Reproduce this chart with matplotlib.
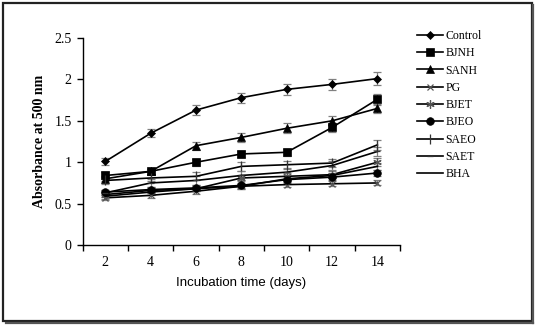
import matplotlib
matplotlib.use("Agg")
import matplotlib.pyplot as plt
from matplotlib.patches import Rectangle
from matplotlib.lines import Line2D

days = [2, 4, 6, 8, 10, 12, 14]
series_names = ["Control", "BJNH", "SANH", "PG", "BJET", "BJEO", "SAEO", "SAET", "BHA"]

control = [1.01, 1.35, 1.63, 1.78, 1.88, 1.94, 2.01]
bjnh = [0.84, 0.89, 1.00, 1.10, 1.12, 1.42, 1.76]
sanh = [0.80, 0.89, 1.20, 1.30, 1.41, 1.50, 1.65]
pg = [0.57, 0.60, 0.65, 0.71, 0.73, 0.74, 0.75]
bjet = [0.61, 0.66, 0.68, 0.81, 0.83, 0.85, 1.00]
bjeo = [0.64, 0.67, 0.69, 0.72, 0.79, 0.82, 0.87]
saeo = [0.78, 0.81, 0.83, 0.95, 0.97, 0.99, 1.21]
saet = [0.63, 0.75, 0.78, 0.84, 0.88, 0.96, 1.13]
bha = [0.59, 0.64, 0.68, 0.71, 0.80, 0.84, 0.95]

control_err = [0.04, 0.05, 0.06, 0.06, 0.07, 0.07, 0.08]
bjnh_err = [0.04, 0.03, 0.04, 0.04, 0.04, 0.05, 0.07]
sanh_err = [0.03, 0.03, 0.05, 0.05, 0.06, 0.06, 0.05]
pg_err = [0.03, 0.03, 0.03, 0.03, 0.03, 0.03, 0.03]
bjet_err = [0.03, 0.03, 0.03, 0.04, 0.04, 0.04, 0.05]
bjeo_err = [0.03, 0.03, 0.03, 0.03, 0.04, 0.04, 0.04]
saeo_err = [0.04, 0.04, 0.05, 0.05, 0.05, 0.05, 0.06]
saet_err = [0.03, 0.05, 0.05, 0.05, 0.05, 0.05, 0.05]
bha_err = [0.03, 0.03, 0.03, 0.03, 0.03, 0.03, 0.04]

values = [control, bjnh, sanh, pg, bjet, bjeo, saeo, saet, bha]
errors = [control_err, bjnh_err, sanh_err, pg_err, bjet_err, bjeo_err,
          saeo_err, saet_err, bha_err]

styles = [
    dict(marker="D", ms=4.5, mfc="black", mec="black", mew=0.5),
    dict(marker="s", ms=5.5, mfc="black", mec="black", mew=0.5),
    dict(marker="^", ms=5.5, mfc="black", mec="black", mew=0.5),
    dict(marker="x", ms=5, mfc="none", mec="#555555", mew=0.9),
    dict(marker=(6, 2, 0), ms=6, mfc="none", mec="#555555", mew=0.9),
    dict(marker="o", ms=5.5, mfc="black", mec="black", mew=0.5),
    dict(marker="|", ms=7, mfc="none", mec="#333333", mew=0.9),
    dict(marker="_", ms=5, mfc="none", mec="#333333", mew=0.9),
    dict(marker="None"),
]

serif = ["Liberation Serif", "DejaVu Serif"]
sans = ["Liberation Sans", "DejaVu Sans"]

fig = plt.figure(figsize=(5.37, 3.25), dpi=100)
ax = fig.add_axes([0.154, 0.246, 0.591, 0.637])

# category positions: day labels sit in the middle of each band
xpos = [i * 2 + 2 for i in range(len(days))]

handles = []
for name, vals, errs, st in zip(series_names, values, errors, styles):
    ax.errorbar(xpos, vals, yerr=errs, fmt="none", ecolor="#808080",
                elinewidth=0.9, capsize=3, capthick=0.9, zorder=2)
    ln, = ax.plot(xpos, vals, color="black", lw=1.2, zorder=3, **st)
    handles.append(ln)

ax.set_xlim(1, 15)
ax.set_ylim(0, 2.5)
ax.set_xticks([1, 3, 5, 7, 9, 11, 13, 15])
ax.set_xticklabels([])
ax.set_xticks(xpos, minor=True)
ax.set_xticklabels([str(d) for d in days], minor=True, family=serif, fontsize=10)
ax.tick_params(axis="x", which="minor", length=0, pad=8)
ax.tick_params(axis="x", which="major", length=4, width=1, direction="out")
ax.set_yticks([0, 0.5, 1, 1.5, 2, 2.5])
ax.set_yticklabels(["0", "0.5", "1", "1.5", "2", "2.5"], family=serif, fontsize=10)
ax.tick_params(axis="y", length=4, width=1, direction="out", pad=4)
for s in ["top", "right"]:
    ax.spines[s].set_visible(False)
for s in ["left", "bottom"]:
    ax.spines[s].set_linewidth(1)

ax.set_xlabel("Incubation time (days)", family=sans, fontsize=9.5, labelpad=6)
ax.set_ylabel("Absorbance at 500 nm", family=serif, fontsize=10,
              fontweight="bold", labelpad=6)

leg = fig.legend(handles, series_names, loc="upper left",
                 bbox_to_anchor=(0.777, 0.908), frameon=False,
                 prop={"family": serif, "size": 8.5},
                 handlelength=2.2, handletextpad=0.2, labelspacing=0.45,
                 borderpad=0, borderaxespad=0)

# outer frame with a dark drop shadow on the right and bottom
fig.patches.append(Rectangle((0.006, 0.012), 0.984, 0.978, transform=fig.transFigure,
                             fill=False, lw=1.6, ec="#222222"))
fig.lines.append(Line2D([0.993, 0.993], [0.006, 0.985], transform=fig.transFigure,
                        lw=1.6, color="#555555"))
fig.lines.append(Line2D([0.012, 0.993], [0.006, 0.006], transform=fig.transFigure,
                        lw=1.6, color="#555555"))

fig.savefig("out.png", dpi=100)
